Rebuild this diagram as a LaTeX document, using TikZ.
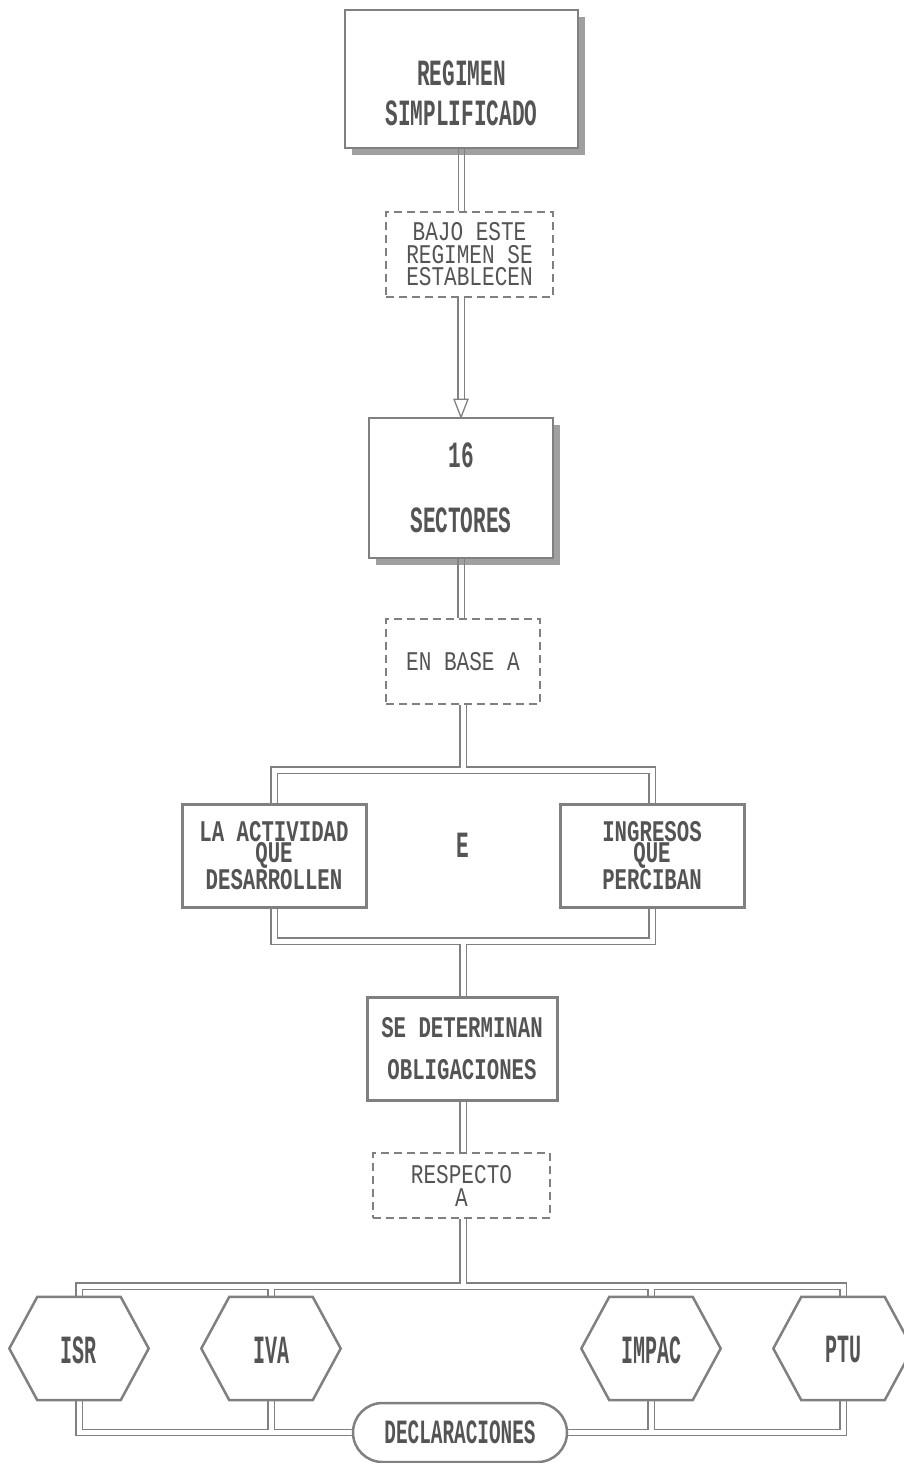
\documentclass[tikz,border=0pt]{standalone}
\usepackage{fontspec}
\usetikzlibrary{shapes.misc,shadows}
\newfontfamily\fA[FakeStretch=0.57]{Liberation Mono}
\newfontfamily\fB[FakeStretch=0.69]{Liberation Mono}
\newfontfamily\fC[FakeStretch=0.78]{Liberation Mono}
\newfontfamily\fD[FakeStretch=0.5]{Liberation Mono}
\definecolor{lc}{gray}{0.5}
\definecolor{tc}{gray}{0.33}
\pgfdeclarelayer{background}
\pgfsetlayers{background,main}
\begin{document}
\begin{tikzpicture}[x=1pt,y=-1pt,
  dbl/.style={draw=lc,line width=1.3pt,double=white,double distance=5pt},
  shbox/.style={draw=lc,line width=1.5pt,fill=white,inner sep=0pt,
    drop shadow={shadow xshift=7pt,shadow yshift=-7pt,fill=lc,opacity=0.75}},
  sbox/.style={draw=lc,line width=3pt,fill=white,inner sep=0pt,align=center,text=tc,
    font=\fB\bfseries\fontsize{30}{20.5}\selectfont},
  dbox/.style={draw=lc,line width=1.2pt,dash pattern=on 8pt off 5pt,fill=white,inner sep=0pt,
    align=center,text=tc,font=\fC\fontsize{27}{22.5}\selectfont},
  bigtxt/.style={align=center,text=tc,inner sep=0pt,font=\fA\bfseries\fontsize{37}{40}\selectfont},
  hexnode/.style={minimum width=139pt,minimum height=103pt,inner sep=0pt,text=tc,
    font=\fD\bfseries\fontsize{40}{40}\selectfont},
  hexline/.style={draw=lc,line width=2.5pt,line join=miter,fill=white},
  tip/.style={draw=lc,line width=1.3pt,fill=white,line join=miter}]
\useasboundingbox (0,0) rectangle (903,1463);

% top boxes
\node[shbox,minimum width=233pt,minimum height=138pt] (reg) at (461.5,79) {};
\node[bigtxt] (regt) at (461.5,93) {REGIMEN\\SIMPLIFICADO};
\node[dbox,minimum width=167pt,minimum height=85pt] (est) at (469.5,254.5) {BAJO ESTE\\REGIMEN SE\\ESTABLECEN};
\node[shbox,minimum width=184pt,minimum height=140pt,align=center,text=tc,
  font=\fA\bfseries\fontsize{37}{65}\selectfont] (sec) at (461,488) {16\\SECTORES};
\node[dbox,minimum width=154pt,minimum height=85pt] (base) at (463,661.5) {EN BASE A};

% middle
\node[sbox,minimum width=184pt,minimum height=103pt] (act) at (274,855.5) {LA ACTIVIDAD\\QUE\\DESARROLLEN};
\node[sbox,minimum width=184pt,minimum height=103pt] (ing) at (652,855.5) {INGRESOS\\QUE\\PERCIBAN};
\node[bigtxt] (e) at (463,845) {E};
\node[sbox,minimum width=190pt,minimum height=103pt,font=\fB\bfseries\fontsize{30}{42}\selectfont] (sed) at (462,1048.5) {SE DETERMINAN\\OBLIGACIONES};
\node[dbox,minimum width=177pt,minimum height=65pt,font=\fC\fontsize{27}{23}\selectfont] (resp) at (461.5,1185.5) {RESPECTO\\A};

% hexagons
\node[hexnode] (isr) at (79,1348.5) {};
\node[hexnode] (iva) at (271,1348.5) {};
\node[hexnode] (imp) at (651,1348.5) {};
\node[hexnode] (ptu) at (843,1348.5) {};
\foreach \n in {isr,iva,imp,ptu}
  \draw[hexline] (\n.west) -- ([xshift=28pt]\n.north west) -- ([xshift=-28pt]\n.north east)
    -- (\n.east) -- ([xshift=-28pt]\n.south east) -- ([xshift=28pt]\n.south west) -- cycle;
\node[hexnode] (isrt) at (79,1350) {ISR};
\node[hexnode] (ivat) at (271,1350) {IVA};
\node[hexnode] (impt) at (651,1350) {IMPAC};
\node[hexnode] (ptut) at (843,1350) {PTU};

\node[rounded rectangle,draw=lc,line width=2.5pt,fill=white,minimum width=214pt,minimum height=59pt,
  inner sep=0pt,text=tc,font=\fA\bfseries\fontsize{34}{36}\selectfont] (decl) at (460,1432.5) {DECLARACIONES};

% arrow tip
\draw[tip] ([xshift=-7pt,yshift=18pt]sec.north) -- ([xshift=7pt,yshift=18pt]sec.north) -- (sec.north) -- cycle;

\coordinate (bj) at (463,770);
\coordinate (bk) at (463,941);
\coordinate (hb) at (463,1286);
\coordinate (hbiva) at (iva.north |- hb);
\coordinate (hbimp) at (imp.north |- hb);
\coordinate (dbiva) at (iva.south |- decl.west);
\coordinate (dbimp) at (imp.south |- decl.east);

\begin{pgfonlayer}{background}
\draw[dbl] (reg.south) -- (reg.south |- est.north);
\draw[dbl] (est.south -| sec.north) -- ([yshift=17pt]sec.north);
\draw[dbl] (sec.south) -- (sec.south |- base.north);
\draw[dbl] (act.north) |- (bj) -| (ing.north);
\draw[dbl] (base.south -| bj) -- ([yshift=2.5pt]bj);
\draw[dbl] (act.south) |- (bk) -| (ing.south);
\draw[dbl] ([yshift=-2.5pt]bk) -- (sed.north -| bk);
\draw[dbl] (sed.south -| bk) -- (resp.north -| bk);
\draw[dbl] (isr.north) |- (hb) -| (ptu.north);
\draw[dbl] (resp.south -| hb) -- ([yshift=2.5pt]hb);
\draw[dbl] ([yshift=-2.5pt]hbiva) -- (iva.north);
\draw[dbl] ([yshift=-2.5pt]hbimp) -- (imp.north);
\draw[dbl] (isr.south) |- (decl.west);
\draw[dbl] (ptu.south) |- (decl.east);
\draw[dbl] (iva.south) -- ([yshift=2.5pt]dbiva);
\draw[dbl] (imp.south) -- ([yshift=2.5pt]dbimp);
\end{pgfonlayer}
\end{tikzpicture}
\end{document}
